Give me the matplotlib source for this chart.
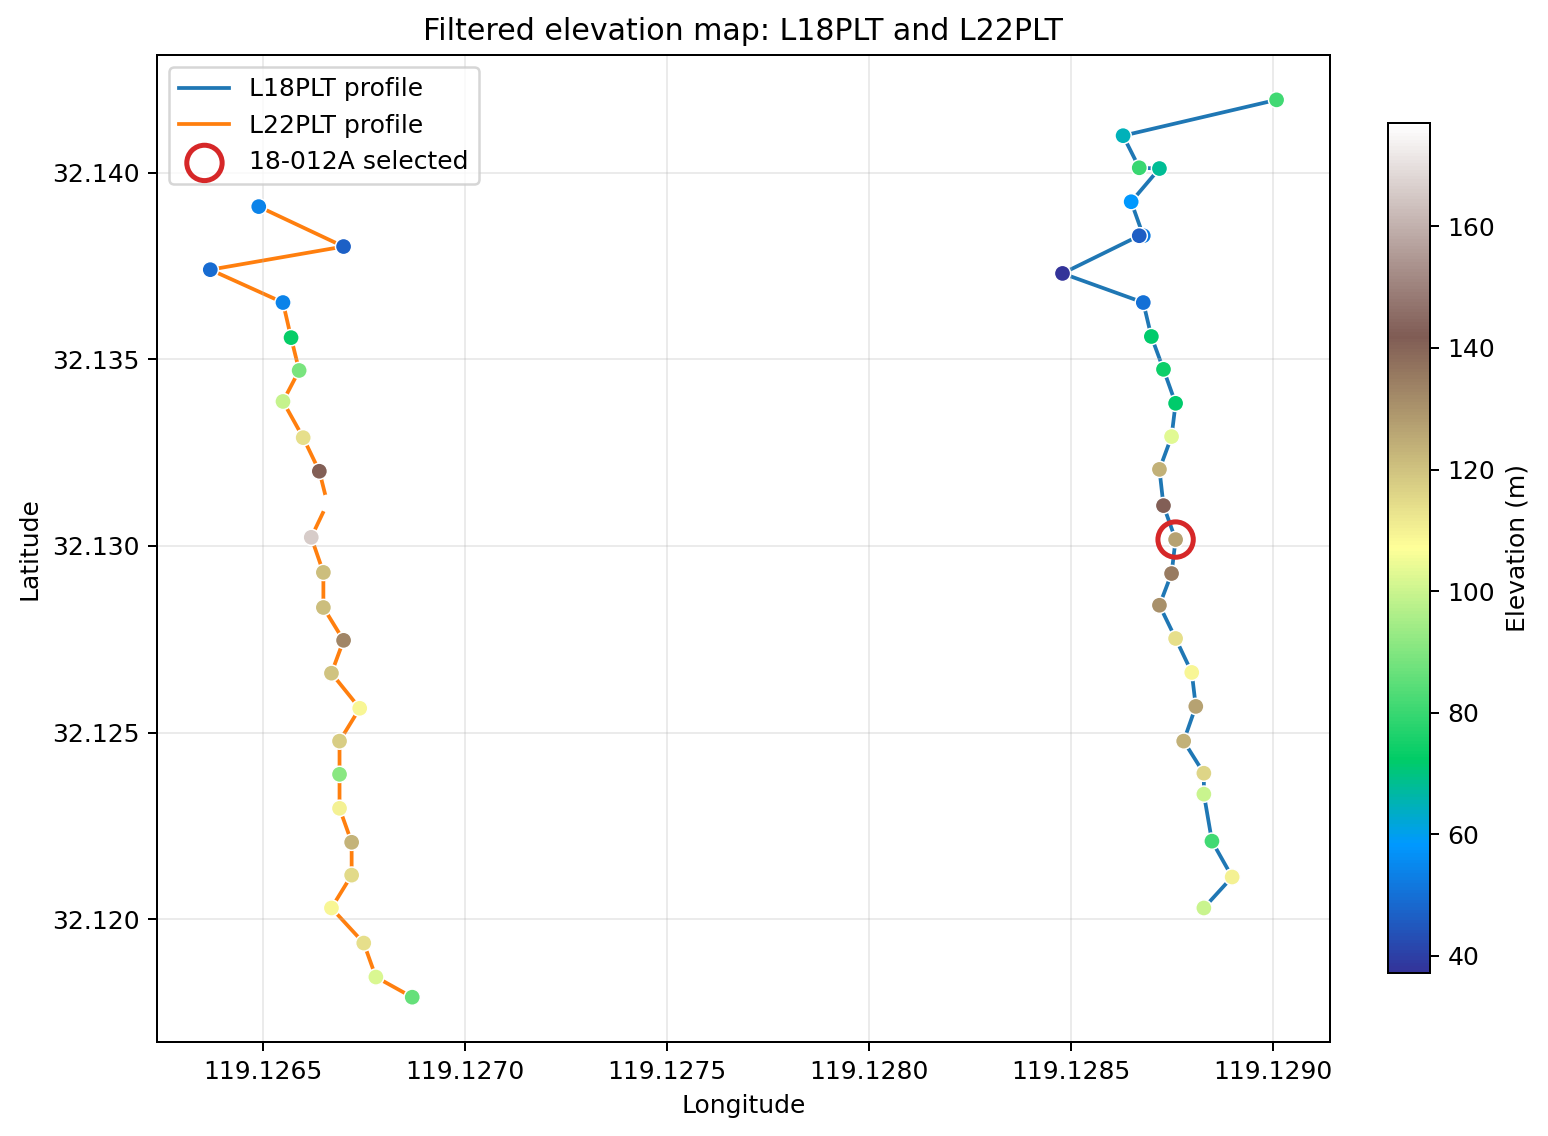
import matplotlib
matplotlib.use("Agg")
import matplotlib.pyplot as plt

# L18PLT profile points (lon, lat, elevation m)
l18_lon = [119.12901, 119.12863, 119.12867, 119.12872, 119.12865, 119.12868, 119.12867,
           119.12848, 119.12868, 119.12870, 119.12873, 119.12876, 119.12875, 119.12872,
           119.12873, 119.12876, 119.12875, 119.12872, 119.12876, 119.12880, 119.12881,
           119.12878, 119.12883, 119.12883, 119.12885, 119.12890, 119.12883]
l18_lat = [32.14195, 32.14099, 32.14013, 32.14011, 32.13922, 32.13831, 32.13831,
           32.13730, 32.13652, 32.13561, 32.13473, 32.13382, 32.13293, 32.13205,
           32.13108, 32.13017, 32.12926, 32.12841, 32.12752, 32.12661, 32.12570,
           32.12477, 32.12391, 32.12335, 32.12209, 32.12113, 32.12030]
l18_elev = [81, 65, 80, 68, 58, 52, 46,
            37.2, 50, 72, 74, 72, 103, 124,
            141, 127, 135, 131, 114, 109, 127,
            124, 116, 100, 81, 110, 100]

# L22PLT profile points
l22_lon = [119.12649, 119.12670, 119.12637, 119.12655, 119.12657, 119.12659, 119.12655,
           119.12660, 119.12664, 119.12666, 119.12662, 119.12665, 119.12665, 119.12670,
           119.12667, 119.12674, 119.12669, 119.12669, 119.12669, 119.12672, 119.12672,
           119.12667, 119.12675, 119.12678, 119.12687]
l22_lat = [32.13909, 32.13802, 32.13740, 32.13652, 32.13558, 32.13470, 32.13387,
           32.13290, 32.13200, 32.13114, 32.13023, 32.12929, 32.12835, 32.12747,
           32.12659, 32.12565, 32.12477, 32.12388, 32.12297, 32.12206, 32.12118,
           32.12030, 32.11936, 32.11845, 32.11791]
l22_elev = [54, 47, 49, 54, 73, 89, 99,
            114, 141, 177.0, 166, 121, 121, 133,
            120, 109, 118, 91, 110, 123, 115,
            109, 114, 102, 86]

sel_lon = 119.12876
sel_lat = 32.13017

all_elev = l18_elev + l22_elev
vmin = min(all_elev)
vmax = max(all_elev)

fig = plt.figure(figsize=(8.6, 1136 / 180), dpi=180)
ax = fig.add_axes([0.1014, 0.0827, 0.7577, 0.8689])

ax.plot(l18_lon, l18_lat, color='tab:blue', lw=1.5, label='L18PLT profile', zorder=1)
ax.plot(l22_lon, l22_lat, color='tab:orange', lw=1.5, label='L22PLT profile', zorder=1)
sc = ax.scatter(l18_lon, l18_lat, c=l18_elev, cmap='terrain', vmin=vmin, vmax=vmax,
                s=42, edgecolors='white', linewidths=0.6, zorder=2)
ax.scatter(l22_lon, l22_lat, c=l22_elev, cmap='terrain', vmin=vmin, vmax=vmax,
           s=42, edgecolors='white', linewidths=0.6, zorder=2)
ax.scatter([sel_lon], [sel_lat], s=200, facecolors='none', edgecolors='tab:red',
           linewidths=2, label='18-012A selected', zorder=3)

ax.set_title('Filtered elevation map: L18PLT and L22PLT')
ax.set_xlabel('Longitude')
ax.set_ylabel('Latitude')
ax.grid(True, alpha=0.25)
ax.xaxis.set_major_formatter(matplotlib.ticker.FormatStrFormatter('%.4f'))
ax.yaxis.set_major_formatter(matplotlib.ticker.FormatStrFormatter('%.3f'))
ax.legend(loc='upper left')

cax = fig.add_axes([0.8966, 0.1435, 0.0271, 0.7482])
cb = fig.colorbar(sc, cax=cax)
cb.set_label('Elevation (m)')

fig.savefig('out.png', dpi=180)
